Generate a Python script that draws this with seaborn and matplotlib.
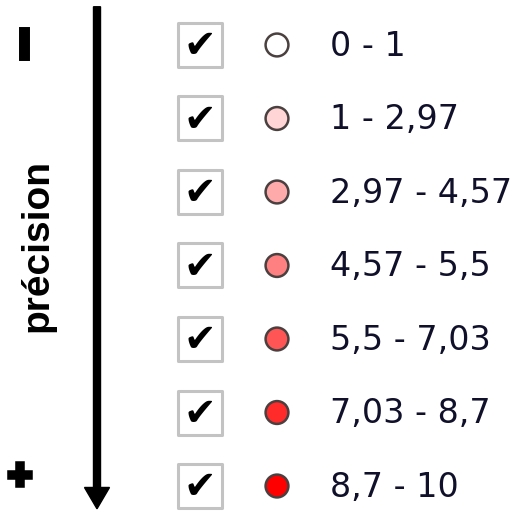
import numpy as np
import pandas as pd
import seaborn as sns
import matplotlib.pyplot as plt
import matplotlib.patheffects as pe

# Classes de la légende (de haut en bas)
classes = ["0 - 1", "1 - 2,97", "2,97 - 4,57", "4,57 - 5,5",
           "5,5 - 7,03", "7,03 - 8,7", "8,7 - 10"]
couleurs = ["#ffffff", "#ffd5d5", "#ffaaaa", "#ff8080",
            "#ff5555", "#ff2a2a", "#ff0000"]
coche = [True, True, True, True, True, True, True]
titre_axe = "précision"
signe_haut = "\u2212"
signe_bas = "+"

df = pd.DataFrame({"classe": classes, "couleur": couleurs, "coche": coche})

sns.set_style("white")
fig = plt.figure(figsize=(5.15, 5.11), dpi=100)
ax = fig.add_axes([0, 0, 1, 1])

# cases à cocher
sns.scatterplot(x=[200] * len(df), y=df["classe"], marker="s", s=1000,
                color="white", edgecolor="#c3c3c3", linewidth=2.2, ax=ax,
                legend=False, zorder=2)

# pastilles de couleur
sns.scatterplot(x=[277] * len(df), y=df["classe"], hue=df["classe"],
                palette=list(df["couleur"]), s=270, edgecolor="#4a4040",
                linewidth=1.8, ax=ax, legend=False, zorder=3)

for i, row in df.iterrows():
    if row["coche"]:
        ax.text(200, i + 0.02, "\u2714", ha="center", va="center", fontsize=28,
                color="black", family="DejaVu Sans", zorder=4)
    ax.text(330, i + 0.02, row["classe"], ha="left", va="center",
            fontsize=24, color="#10102a", family="DejaVu Sans")

# flèche verticale
ax.arrow(97, -0.52, 0, 6.83, width=7, head_width=25, head_length=0.29,
         length_includes_head=True, color="black", zorder=2)

ax.text(37, 2.73, titre_axe, rotation=90, ha="center", va="center",
        fontsize=28, fontweight="bold", family="Liberation Sans",
        color="black")
ax.text(25, -0.02, signe_haut, rotation=90, ha="center", va="center",
        fontsize=30, fontweight="bold", family="DejaVu Sans", color="black",
        path_effects=[pe.Stroke(linewidth=5, foreground="black",
                                joinstyle="miter", capstyle="butt"),
                      pe.Normal()])
ax.text(20, 5.86, signe_bas, ha="center", va="center",
        fontsize=24, fontweight="bold", family="DejaVu Sans", color="black",
        path_effects=[pe.Stroke(linewidth=4, foreground="black",
                                joinstyle="miter", capstyle="butt"),
                      pe.Normal()])

ax.set_xlim(0, 515)
ax.set_ylim(6.34, -0.612)
ax.set_axis_off()

plt.savefig("out.png", dpi=100)
